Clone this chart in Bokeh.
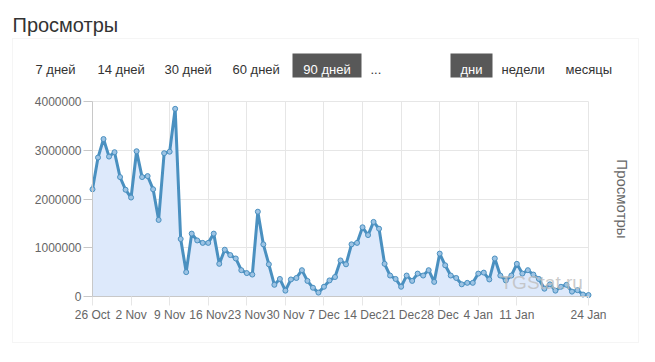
import pandas as pd
from bokeh.plotting import figure
from bokeh.models import (FixedTicker, LinearAxis, Label, BoxAnnotation, Range1d,
                          ColumnDataSource, BasicTickFormatter, Grid)
from bokeh.embed import file_html
from bokeh.resources import INLINE

# ---------------- data ----------------
start_date = "2020-10-26"
views = [
    2200000, 2850000, 3230000, 2870000, 2960000, 2450000, 2190000, 2030000,
    2980000, 2450000, 2470000, 2200000, 1570000, 2940000, 2970000, 3850000,
    1180000, 500000, 1290000, 1150000, 1100000, 1100000, 1290000, 670000,
    960000, 850000, 780000, 540000, 480000, 450000, 1740000, 1070000,
    660000, 240000, 360000, 120000, 350000, 380000, 540000, 320000,
    180000, 80000, 200000, 330000, 400000, 740000, 660000, 1070000,
    1100000, 1420000, 1260000, 1530000, 1390000, 670000, 430000, 360000,
    200000, 430000, 320000, 470000, 430000, 540000, 300000, 880000,
    640000, 430000, 380000, 250000, 280000, 280000, 470000, 490000,
    350000, 780000, 430000, 330000, 430000, 670000, 470000, 540000,
    450000, 360000, 160000, 250000, 120000, 200000, 240000, 100000,
    130000, 40000, 30000,
]
tick_dates = ["2020-10-26", "2020-11-02", "2020-11-09", "2020-11-16", "2020-11-23",
              "2020-11-30", "2020-12-07", "2020-12-14", "2020-12-21", "2020-12-28",
              "2021-01-04", "2021-01-11", "2021-01-24"]
tick_labels = ["26 Oct", "2 Nov", "9 Nov", "16 Nov", "23 Nov", "30 Nov", "7 Dec",
               "14 Dec", "21 Dec", "28 Dec", "4 Jan", "11 Jan", "24 Jan"]
y_ticks = [0, 1000000, 2000000, 3000000, 4000000]
title_text = "Просмотры"
axis_title = "Просмотры"
watermark = "TGStat.ru"
period_buttons = ["7 дней", "14 дней", "30 дней", "60 дней", "90 дней", "..."]
period_active = "90 дней"
unit_buttons = ["дни", "недели", "месяцы"]
unit_active = "дни"

# ---------------- derived ----------------
dates = pd.date_range(start_date, periods=len(views), freq="D")
day = [(d - dates[0]).days for d in dates]
tick_pos = [(pd.Timestamp(t) - dates[0]).days for t in tick_dates]
src = ColumnDataSource(dict(day=day, views=views, zero=[0] * len(views)))

FONT = "Liberation Sans"
LINE = "#4a90c0"
GRID = "#e6e6e6"

# page layout (pixels): plot area of the chart inside the canvas
W, H = 654, 360
PL, PR, PT, PB = 92, 588, 101, 296
x_lo, x_hi = day[0], day[-1]
y_lo, y_hi = y_ticks[0], y_ticks[-1]
kx = (PR - PL) / (x_hi - x_lo)
ky = (PB - PT) / (y_hi - y_lo)
x_range = Range1d(x_lo - PL / kx, x_hi + (W - PR) / kx)
y_range = Range1d(y_lo - (H - PB) / ky, y_hi + PT / ky)

p = figure(width=W, height=H, output_backend="svg", toolbar_location=None,
           x_range=x_range, y_range=y_range, min_border=0,
           x_axis_location=None, y_axis_location=None)
p.xgrid.visible = False
p.ygrid.visible = False
p.outline_line_color = None
p.background_fill_color = "white"
p.border_fill_color = "white"

# grids limited to the plot area
p.add_layout(Grid(dimension=0, ticker=FixedTicker(ticks=tick_pos), grid_line_color=GRID,
                  cross_bounds=(y_lo, y_hi)))
p.add_layout(Grid(dimension=1, ticker=FixedTicker(ticks=y_ticks), grid_line_color=GRID,
                  cross_bounds=(x_lo, x_hi)))

p.varea(x="day", y1="zero", y2="views", source=src, fill_color="#dde9fb", fill_alpha=1.0)
p.line(x="day", y="views", source=src, line_color=LINE, line_width=3)
p.scatter(x="day", y="views", source=src, size=5, fill_color="#9cc3e4",
          line_color=LINE, line_width=1)

# axes
xa = LinearAxis(fixed_location=y_lo, bounds=(x_lo, x_hi), ticker=FixedTicker(ticks=tick_pos))
xa.major_label_overrides = {pos: lab for pos, lab in zip(tick_pos, tick_labels)}
xa.minor_tick_line_color = None
xa.major_tick_out = 9
xa.major_tick_in = 0
xa.major_tick_line_color = GRID
xa.axis_line_color = "#c8c8c8"
xa.major_label_standoff = 2
xa.major_label_text_font = FONT
xa.major_label_text_font_size = "12px"
xa.major_label_text_color = "#666666"
p.add_layout(xa, "below")

ya = LinearAxis(fixed_location=x_lo, bounds=(y_lo, y_hi), ticker=FixedTicker(ticks=y_ticks))
ya.formatter = BasicTickFormatter(use_scientific=False)
ya.minor_tick_line_color = None
ya.major_tick_out = 9
ya.major_tick_in = 0
ya.major_tick_line_color = "#c8c8c8"
ya.axis_line_color = "#c8c8c8"
ya.major_label_standoff = 2
ya.major_label_text_font = FONT
ya.major_label_text_font_size = "12px"
ya.major_label_text_color = "#666666"
p.add_layout(ya, "left")

ra = LinearAxis(fixed_location=x_hi, bounds=(y_lo, y_hi), ticker=FixedTicker(ticks=[]),
                axis_label=axis_title)
ra.axis_line_color = None
ra.major_tick_line_color = None
ra.minor_tick_line_color = None
ra.axis_label_standoff = 25
ra.axis_label_text_font = FONT
ra.axis_label_text_font_size = "15px"
ra.axis_label_text_font_style = "normal"
ra.axis_label_text_color = "#666666"
p.add_layout(ra, "right")


# ---------------- decorations (screen units, frame = whole canvas) ----------------
def sx(px):
    return px


def sy(py):
    return H - py


def box(l, r, t, b, **kw):
    return BoxAnnotation(left=sx(l), right=sx(r), top=sy(t), bottom=sy(b),
                         left_units="screen", right_units="screen",
                         top_units="screen", bottom_units="screen", **kw)


p.add_layout(box(12, 638, 38, 342, fill_color=None, line_color="#dddddd", line_width=1))

p.add_layout(Label(x=sx(12), y=sy(24), x_units="screen", y_units="screen",
                   text=title_text, text_font=FONT, text_font_size="20px",
                   text_color="#333333", text_baseline="alphabetic"))

active_boxes = {period_active: (292, 361), unit_active: (450, 492)}
for name, (l, r) in active_boxes.items():
    p.add_layout(box(l, r, 53, 77, fill_color="#585858", fill_alpha=1.0, line_color=None))

btn_x = [35, 97, 164, 232, 302, 370]
unit_x = [458, 501, 565]
for name, bx in list(zip(period_buttons, btn_x)) + list(zip(unit_buttons, unit_x)):
    if name in active_boxes:
        l, r = active_boxes[name]
        p.add_layout(Label(x=sx((l + r) / 2), y=sy(69), x_units="screen", y_units="screen",
                           text=name, text_font=FONT, text_font_size="13px",
                           text_color="white", text_align="center", text_baseline="alphabetic"))
    else:
        p.add_layout(Label(x=sx(bx), y=sy(69), x_units="screen", y_units="screen",
                           text=name, text_font=FONT, text_font_size="13px",
                           text_color="#333333", text_baseline="alphabetic"))

p.add_layout(Label(x=sx(500), y=sy(282), x_units="screen", y_units="screen",
                   text=watermark, text_font=FONT, text_font_size="19px",
                   text_color="#bdbdbd", text_alpha=0.8, text_baseline="alphabetic"))

open("out.html", "w").write(file_html(p, INLINE))
